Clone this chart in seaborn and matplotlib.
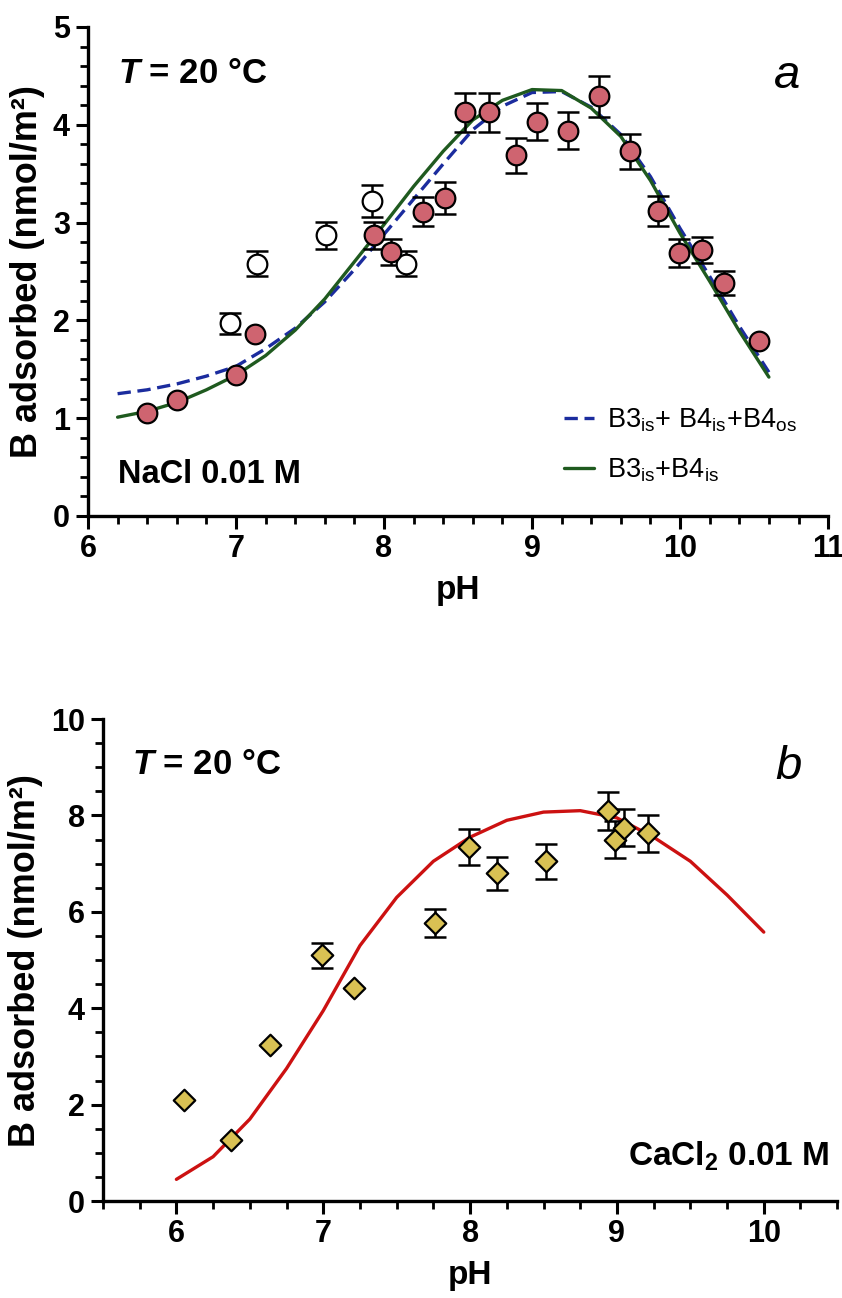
import matplotlib
matplotlib.use("Agg")
import matplotlib.pyplot as plt
import seaborn as sns
import pandas as pd
from matplotlib.ticker import MultipleLocator

# ---- panel a: NaCl 0.01 M, T = 20 °C ----
ph_filled = [6.40, 6.60, 7.00, 7.13, 7.93, 8.05, 8.26, 8.41, 8.55, 8.71,
             8.89, 9.03, 9.24, 9.45, 9.66, 9.85, 9.99, 10.15, 10.30, 10.53]
b_filled = [1.05, 1.19, 1.44, 1.86, 2.87, 2.70, 3.11, 3.25, 4.13, 4.13,
            3.69, 4.03, 3.94, 4.29, 3.73, 3.12, 2.69, 2.72, 2.38, 1.79]
err_filled = [0, 0, 0, 0, 0.14, 0.13, 0.15, 0.16, 0.20, 0.20,
              0.18, 0.19, 0.19, 0.21, 0.18, 0.15, 0.14, 0.13, 0.12, 0]

ph_open = [6.96, 7.14, 7.61, 7.92, 8.15]
b_open = [1.97, 2.58, 2.87, 3.22, 2.58]
err_open = [0.11, 0.13, 0.14, 0.16, 0.13]

ph_model_a = [6.2, 6.4, 6.6, 6.8, 7.0, 7.2, 7.4, 7.6, 7.8, 8.0, 8.2, 8.4,
              8.6, 8.8, 9.0, 9.2, 9.4, 9.6, 9.8, 10.0, 10.2, 10.4, 10.6]
model_is_os = [1.25, 1.29, 1.35, 1.43, 1.53, 1.71, 1.92, 2.19, 2.52, 2.88, 3.24, 3.60,
               3.95, 4.19, 4.33, 4.34, 4.18, 3.90, 3.47, 2.94, 2.45, 1.94, 1.47]
model_is = [1.01, 1.07, 1.16, 1.29, 1.44, 1.64, 1.90, 2.22, 2.60, 2.98, 3.37, 3.73,
            4.05, 4.25, 4.36, 4.35, 4.17, 3.88, 3.43, 2.89, 2.40, 1.89, 1.42]

# ---- panel b: CaCl2 0.01 M, T = 20 °C ----
ph_ca = [6.05, 6.37, 6.64, 6.99, 7.21, 7.76, 7.99, 8.18, 8.52, 8.94, 8.99, 9.05, 9.21]
b_ca = [2.10, 1.27, 3.24, 5.10, 4.42, 5.77, 7.35, 6.80, 7.05, 8.09, 7.50, 7.75, 7.63]
err_ca = [0, 0, 0, 0.26, 0, 0.29, 0.37, 0.34, 0.36, 0.40, 0.38, 0.38, 0.39]

ph_model_b = [6.0, 6.25, 6.5, 6.75, 7.0, 7.25, 7.5, 7.75, 8.0, 8.25, 8.5,
              8.75, 9.0, 9.25, 9.5, 9.75, 10.0]
model_ca = [0.45, 0.92, 1.70, 2.75, 3.95, 5.30, 6.30, 7.05, 7.55, 7.90, 8.07,
            8.10, 7.95, 7.55, 7.05, 6.35, 5.58]

sns.set_style("ticks")
plt.rcParams['font.family'] = ['Liberation Sans', 'DejaVu Sans']
plt.rcParams['font.weight'] = 'bold'
plt.rcParams['axes.labelweight'] = 'bold'
plt.rcParams['text.color'] = 'black'
plt.rcParams['axes.labelcolor'] = 'black'
plt.rcParams['axes.edgecolor'] = 'black'
plt.rcParams['xtick.color'] = 'black'
plt.rcParams['ytick.color'] = 'black'
plt.rcParams['mathtext.fontset'] = 'custom'
plt.rcParams['mathtext.rm'] = 'Liberation Sans'
plt.rcParams['mathtext.it'] = 'Liberation Sans:bold:italic'
plt.rcParams['mathtext.bf'] = 'Liberation Sans:bold'
plt.rcParams['mathtext.default'] = 'regular'

pink = '#CF6470'
gold = '#D9C153'

fig = plt.figure(figsize=(8.42, 12.98), dpi=100)
ax1 = fig.add_axes([0.1045, 0.6025, 0.879, 0.3767])
ax2 = fig.add_axes([0.1223, 0.0747, 0.872, 0.3713])

df_f = pd.DataFrame({'pH': ph_filled, 'B': b_filled, 'err': err_filled})
df_o = pd.DataFrame({'pH': ph_open, 'B': b_open, 'err': err_open})
df_ca = pd.DataFrame({'pH': ph_ca, 'B': b_ca, 'err': err_ca})


def err_bars(ax, df):
    d = df[df['err'] > 0]
    ax.errorbar(d['pH'], d['B'], yerr=d['err'], fmt='none', ecolor='black',
                elinewidth=1.8, capsize=8, capthick=1.8, zorder=2)


# panel a
sns.lineplot(x=ph_model_a, y=model_is_os, ax=ax1, color='#1B2C9E', lw=2.4,
             linestyle=(0, (4, 2)), label='B3$_{is}$+ B4$_{is}$+B4$_{os}$', zorder=1)
sns.lineplot(x=ph_model_a, y=model_is, ax=ax1, color='#1F5A1F', lw=2.4,
             label='B3$_{is}$+B4$_{is}$', zorder=1)
err_bars(ax1, df_o)
err_bars(ax1, df_f)
sns.scatterplot(data=df_o, x='pH', y='B', ax=ax1, s=200, color='white',
                edgecolor='black', linewidth=1.6, zorder=3)
sns.scatterplot(data=df_f, x='pH', y='B', ax=ax1, s=200, color=pink,
                edgecolor='black', linewidth=1.6, zorder=3)

ax1.set_xlim(6, 11)
ax1.set_ylim(0, 5)
ax1.xaxis.set_major_locator(MultipleLocator(1))
ax1.xaxis.set_minor_locator(MultipleLocator(0.2))
ax1.yaxis.set_major_locator(MultipleLocator(1))
ax1.yaxis.set_minor_locator(MultipleLocator(0.2))

leg = ax1.legend(loc='center left', bbox_to_anchor=(0.61, 0.145), frameon=False,
                 prop={'size': 19.5, 'weight': 'normal'}, handlelength=1.1,
                 handletextpad=0.5, labelspacing=0.85)

ax1.text(0.04, 0.905, r'$\mathit{T}$ = 20 °C', transform=ax1.transAxes,
         fontsize=25, va='center', ha='left')
ax1.text(0.945, 0.9, 'a', transform=ax1.transAxes, fontsize=34, style='italic',
         weight='normal', va='center', ha='center')
ax1.text(0.04, 0.085, 'NaCl 0.01 M', transform=ax1.transAxes, fontsize=23.5,
         va='center', ha='left')

# panel b
sns.lineplot(x=ph_model_b, y=model_ca, ax=ax2, color='#CC1111', lw=2.4, zorder=1)
err_bars(ax2, df_ca)
sns.scatterplot(data=df_ca, x='pH', y='B', ax=ax2, s=120, marker='D', color=gold,
                edgecolor='black', linewidth=1.6, zorder=3)

ax2.set_xlim(5.5, 10.5)
ax2.set_ylim(0, 10)
ax2.xaxis.set_major_locator(MultipleLocator(1))
ax2.xaxis.set_minor_locator(MultipleLocator(0.25))
ax2.yaxis.set_major_locator(MultipleLocator(2))
ax2.yaxis.set_minor_locator(MultipleLocator(0.5))

ax2.text(0.04, 0.905, r'$\mathit{T}$ = 20 °C', transform=ax2.transAxes,
         fontsize=25, va='center', ha='left')
ax2.text(0.933, 0.9, 'b', transform=ax2.transAxes, fontsize=34, style='italic',
         weight='normal', va='center', ha='center')
ax2.text(0.99, 0.093, 'CaCl$_2$ 0.01 M', transform=ax2.transAxes, fontsize=24,
         va='center', ha='right')

for ax in (ax1, ax2):
    sns.despine(ax=ax)
    for sp in ('left', 'bottom'):
        ax.spines[sp].set_linewidth(2.4)
    ax.tick_params(which='major', length=9, width=2.2, labelsize=22, pad=4)
    ax.tick_params(which='minor', length=5.5, width=2.0)
    ax.set_xlabel('pH', fontsize=24, fontweight='bold', labelpad=8)
    ax.set_ylabel('B adsorbed (nmol/m²)', fontsize=26, fontweight='bold', labelpad=6)

plt.savefig('out.png', dpi=100)
